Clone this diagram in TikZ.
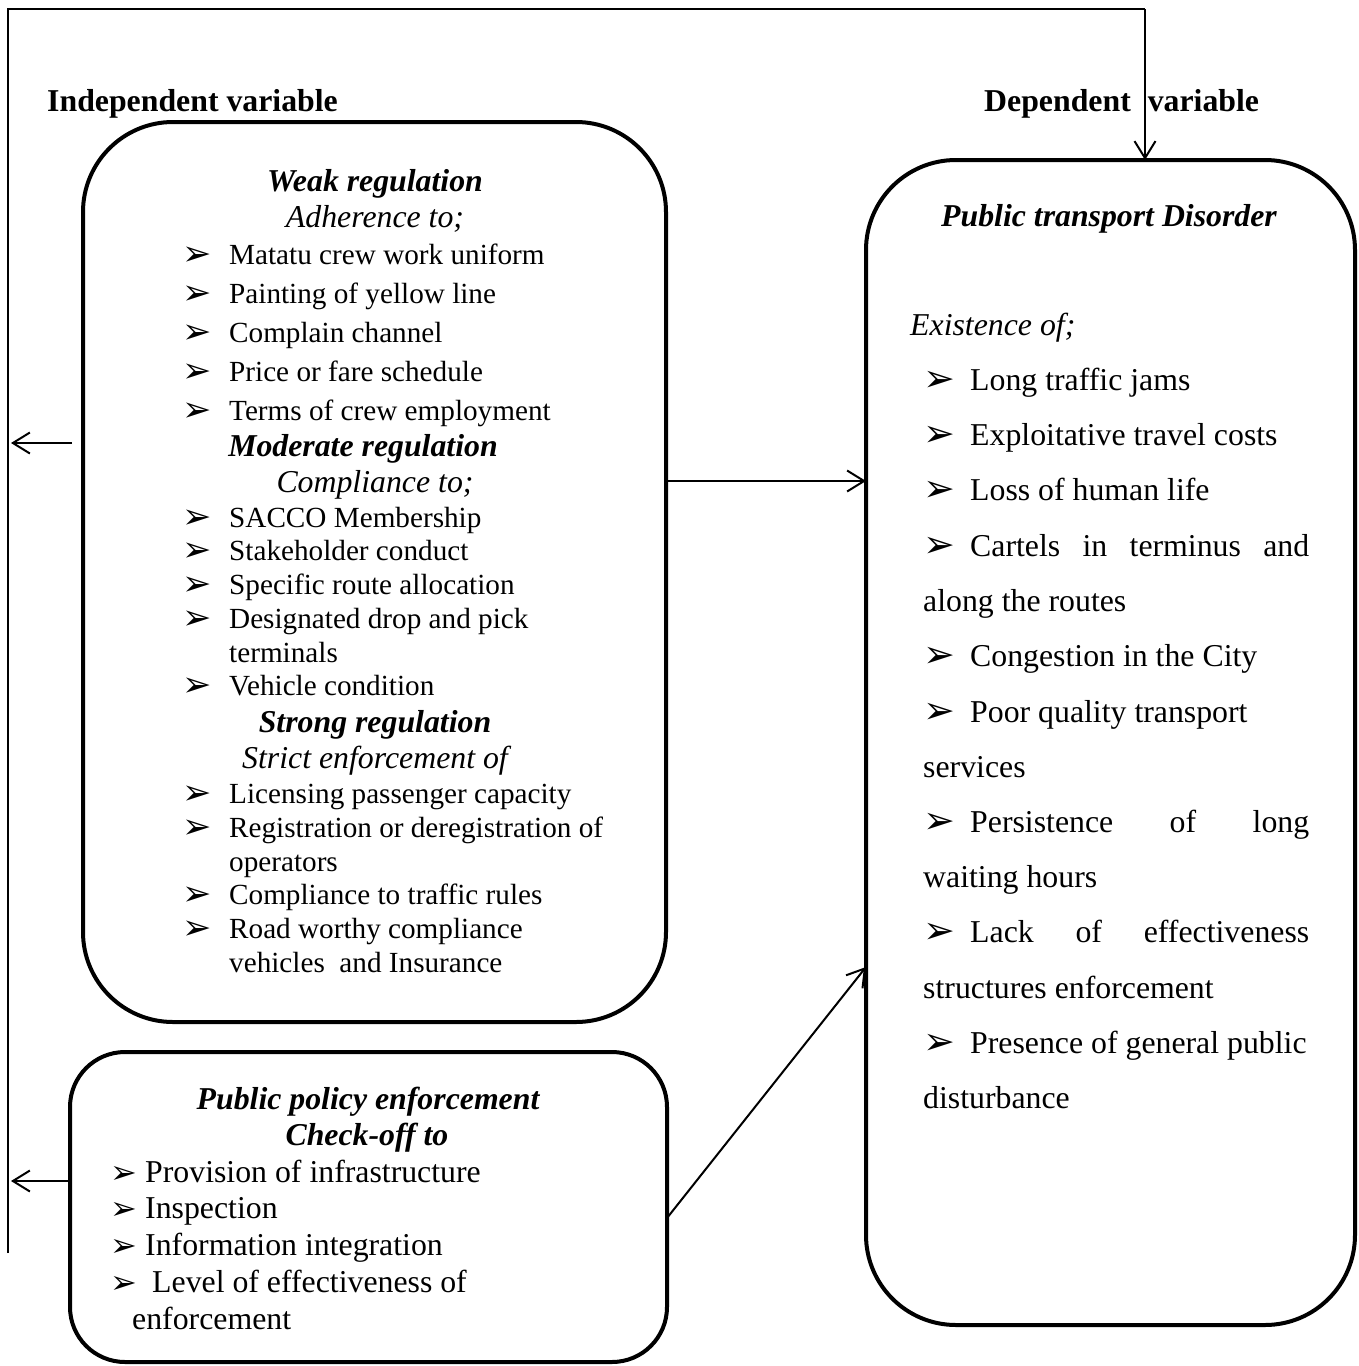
\documentclass[tikz,border=0pt]{standalone}
\usepackage{fontspec}
\setmainfont{Liberation Serif}
\newfontfamily\dejavu{DejaVu Sans}
\usetikzlibrary{arrows.meta}

% bullet arrowheads
\newcommand{\arrL}{\makebox[47pt][l]{\raisebox{-1pt}{\dejavu\fontsize{35}{35}\selectfont ➢}}}
\newcommand{\arrR}{\makebox[47pt][l]{\raisebox{-1pt}{\dejavu\fontsize{38}{38}\selectfont ➢}}}
\newcommand{\arrB}{\makebox[35pt][l]{\raisebox{-1pt}{\dejavu\fontsize{32}{32}\selectfont ➢}}}

\begin{document}
\begin{tikzpicture}[x=1pt,y=-1pt,
    roundbox/.style={draw, line width=4pt, inner sep=0pt, outer sep=0pt},
    link/.style={line width=2pt, -{Straight Barb[length=17pt,width=21pt]}},
    vartitle/.style={anchor=base west, inner sep=0pt, font=\fontsize{31.8}{38}\selectfont\bfseries},
    head/.style={anchor=base, inner sep=0pt, font=\fontsize{31.8}{38}\selectfont\bfseries\itshape},
    subhead/.style={anchor=base, inner sep=0pt, font=\fontsize{31.8}{38}\selectfont\itshape},
    itemL/.style={anchor=base west, inner sep=0pt, font=\fontsize{29.2}{35}\selectfont},
    itemR/.style={anchor=base west, inner sep=0pt, font=\fontsize{31.8}{38}\selectfont}]
    \useasboundingbox (0,0) rectangle (1359,1366);

    % Variable titles
    \node[vartitle] (indep) at (47,111) {Independent variable};
    \node[vartitle] (dep) at (984,111) {Dependent\hspace{9pt} variable};

    % The three boxes
    \node[roundbox, rounded corners=90pt, minimum width=583pt, minimum height=900pt] (weak) at (374.5,572) {};
    \node[roundbox, rounded corners=90pt, minimum width=489pt, minimum height=1165pt] (disorder) at (1110.5,742.5) {};
    \node[roundbox, rounded corners=55pt, minimum width=597pt, minimum height=310pt] (policy) at (368.5,1207) {};

    % Independent variable: regulation
    \node[head] (wkhead) at (375,191) {Weak regulation};
    \node[subhead] (wksub) at (375,227) {Adherence to;};
    \node[itemL] (wk1) at (182,264) {\arrL Matatu crew work uniform};
    \node[itemL] (wk2) at (182,303) {\arrL Painting of yellow line};
    \node[itemL] (wk3) at (182,342) {\arrL Complain channel};
    \node[itemL] (wk4) at (182,381) {\arrL Price or fare schedule};
    \node[itemL] (wk5) at (182,420) {\arrL Terms of crew employment};
    \node[head] (mdhead) at (363,456) {Moderate regulation};
    \node[subhead] (mdsub) at (375,492) {Compliance to;};
    \node[itemL] (md1) at (182,527) {\arrL SACCO Membership};
    \node[itemL] (md2) at (182,560) {\arrL Stakeholder conduct};
    \node[itemL] (md3) at (182,594) {\arrL Specific route allocation};
    \node[itemL] (md4) at (182,628) {\arrL Designated drop and pick};
    \node[itemL] (md4b) at (229,662) {terminals};
    \node[itemL] (md5) at (182,695) {\arrL Vehicle condition};
    \node[head] (sthead) at (375,732) {Strong regulation};
    \node[subhead] (stsub) at (375,768) {Strict enforcement of};
    \node[itemL] (st1) at (182,803) {\arrL Licensing passenger capacity};
    \node[itemL] (st2) at (182,837) {\arrL Registration or deregistration of};
    \node[itemL] (st2b) at (229,871) {operators};
    \node[itemL] (st3) at (182,904) {\arrL Compliance to traffic rules};
    \node[itemL] (st4) at (182,938) {\arrL Road worthy compliance};
    \node[itemL] (st4b) at (229,972) {vehicles\ \ and Insurance};

    % Independent variable: enforcement
    \node[head] (pphead) at (368,1109) {Public policy enforcement};
    \node[head] (ppsub) at (367,1145) {Check-off to};
    \node[itemR] (pp1) at (110,1182) {\arrB Provision of infrastructure};
    \node[itemR] (pp2) at (110,1218) {\arrB Inspection};
    \node[itemR] (pp3) at (110,1255) {\arrB Information integration};
    \node[itemR] (pp4) at (110,1292) {\makebox[42pt][l]{\raisebox{-1pt}{\dejavu\fontsize{32}{32}\selectfont ➢}}Level of effectiveness of};
    \node[itemR] (pp4b) at (132,1329) {enforcement};

    % Dependent variable
    \node[head] (pdhead) at (1109,226) {Public transport Disorder};
    \node[itemR, font=\fontsize{31.8}{38}\selectfont\itshape] (pdsub) at (910,335) {Existence of;};
    \node[itemR] (pd1) at (923,390) {\arrR Long traffic jams};
    \node[itemR] (pd2) at (923,445) {\arrR Exploitative travel costs};
    \node[itemR] (pd3) at (923,500) {\arrR Loss of human life};
    \node[itemR] (pd4) at (923,556) {\arrR\makebox[339pt][s]{Cartels in terminus and}};
    \node[itemR] (pd4b) at (923,611) {along the routes};
    \node[itemR] (pd5) at (923,666) {\arrR Congestion in the City};
    \node[itemR] (pd6) at (923,722) {\arrR Poor quality transport};
    \node[itemR] (pd6b) at (923,777) {services};
    \node[itemR] (pd7) at (923,832) {\arrR\makebox[339pt][s]{Persistence of long}};
    \node[itemR] (pd7b) at (923,887) {waiting hours};
    \node[itemR] (pd8) at (923,942) {\arrR\makebox[339pt][s]{Lack of effectiveness}};
    \node[itemR] (pd8b) at (923,998) {structures enforcement};
    \node[itemR] (pd9) at (923,1053) {\arrR Presence of general public};
    \node[itemR] (pd9b) at (923,1108) {disturbance};

    % Feedback line round the picture
    \coordinate (fbbot) at (8,1253);
    \coordinate (fbtop) at (8,9);
    \coordinate (fbturn) at (1145,9);
    \coordinate (fbw) at (11,443);
    \coordinate (fbp) at (11,1181);
    \draw[line width=2pt] (fbbot) -- (fbtop) -- (fbturn);
    \draw[link] (fbturn) -- (fbturn |- disorder.north);
    \draw[link] ([xshift=-11pt]weak.west |- fbw) -- (fbw);
    \draw[link] (policy.west |- fbp) -- (fbp);

    % Arrows into the dependent variable
    \coordinate (wkout) at (766,481);
    \coordinate (ppout) at (667,1218);
    \coordinate (pdin) at (866,967);
    \draw[link] (weak.east |- wkout) -- (disorder.west |- wkout);
    \draw[link] (policy.east |- ppout) -- (disorder.west |- pdin);

\end{tikzpicture}
\end{document}
